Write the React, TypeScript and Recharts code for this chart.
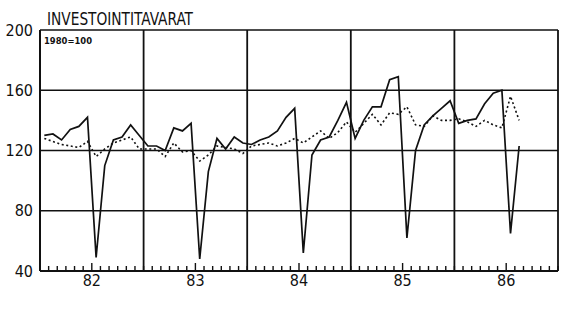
import { LineChart, Line, XAxis, YAxis, CartesianGrid, ReferenceLine } from 'recharts';

// Investment goods index, monthly Jan 1982 – Aug 1986 (1980=100)
const YEARS = ['82', '83', '84', '85', '86'];
const Y_TICKS = [40, 80, 120, 160, 200];
const YEAR_BOUNDS = [12, 24, 36, 48, 60];

// solid line: original series
const SOLID = [
  130, 131, 127, 134, 136, 142, 49, 110, 127, 129, 137, 130,
  123, 123, 120, 135, 133, 138, 48, 106, 128, 121, 129, 125,
  124, 127, 129, 133, 142, 148, 52, 117, 127, 129, 140, 152,
  128, 140, 149, 149, 167, 169, 62, 120, 137, 143, 148, 153,
  138, 140, 141, 151, 158, 160, 65, 123,
];

// dotted line: seasonally adjusted
const DOTTED = [
  128, 126, 124, 123, 122, 126, 116, 121, 125, 127, 129, 121,
  121, 121, 116, 125, 119, 120, 113, 117, 123, 122, 121, 118,
  123, 124, 125, 123, 125, 128, 125, 129, 133, 128, 132, 139,
  132, 138, 144, 137, 145, 144, 149, 137, 136, 143, 140, 140,
  141, 139, 136, 140, 137, 135, 156, 140,
];

const MONTH_TICKS = Array.from({ length: 61 }, (_, i) => i);

const data = SOLID.map((v, i) => ({ m: i + 0.5, solid: v, dotted: DOTTED[i] }));

const FONT = "'Liberation Sans Narrow', 'DejaVu Sans Condensed', 'Arial Narrow', sans-serif";
const INK = '#111';

function MonthTick({ x, y, payload }: any) {
  const v = payload.value as number;
  const mid = v % 12 === 6;
  return (
    <g>
      <line x1={x} x2={x} y1={y} y2={y - (mid ? 8 : 5)} stroke={INK} strokeWidth={1.4} />
      {mid && (
        <text x={x} y={y + 15} textAnchor="middle" fontSize={16} fontFamily={FONT} fill={INK}>
          {YEARS[(v - 6) / 12]}
        </text>
      )}
    </g>
  );
}

function ValueTick({ x, y, payload }: any) {
  return (
    <text x={x} y={y} dy={5.5} textAnchor="end" fontSize={16} fontFamily={FONT} fill={INK}>
      {payload.value}
    </text>
  );
}

export default function App() {
  return (
    <div style={{ position: 'fixed', left: 0, top: 0, width: 565, height: 311, background: '#fff' }}>
      <LineChart width={565} height={311} data={data} margin={{ top: 30, right: 7, bottom: 20, left: 0 }}>
        <CartesianGrid horizontal vertical={false} stroke={INK} strokeWidth={1.6} />
        <XAxis
          dataKey="m"
          type="number"
          domain={[0, 60]}
          ticks={MONTH_TICKS}
          interval={0}
          tick={<MonthTick />}
          tickLine={false}
          tickSize={0}
          tickMargin={0}
          height={20}
          axisLine={{ stroke: INK, strokeWidth: 2 }}
        />
        <YAxis
          type="number"
          domain={[40, 200]}
          ticks={Y_TICKS}
          interval={0}
          tick={<ValueTick />}
          tickLine={false}
          tickSize={0}
          tickMargin={7}
          width={40}
          axisLine={{ stroke: INK, strokeWidth: 2 }}
        />
        {YEAR_BOUNDS.map((b) => (
          <ReferenceLine key={b} x={b} stroke={INK} strokeWidth={1.8} />
        ))}
        <Line
          dataKey="dotted"
          type="linear"
          stroke={INK}
          strokeWidth={1.6}
          strokeDasharray="2 2.6"
          dot={false}
          isAnimationActive={false}
        />
        <Line
          dataKey="solid"
          type="linear"
          stroke={INK}
          strokeWidth={1.7}
          strokeLinejoin="miter"
          dot={false}
          isAnimationActive={false}
        />
      </LineChart>
      <svg width={565} height={311} style={{ position: 'absolute', left: 0, top: 0, pointerEvents: 'none' }}>
        <text x={47} y={25} fontSize={17} fontFamily={FONT} fill={INK} textLength={146} lengthAdjust="spacingAndGlyphs">
          INVESTOINTITAVARAT
        </text>
        <text x={44} y={43.5} fontSize={9} fontWeight="bold" fontFamily={FONT} fill={INK} textLength={48} lengthAdjust="spacingAndGlyphs">
          1980=100
        </text>
      </svg>
    </div>
  );
}
